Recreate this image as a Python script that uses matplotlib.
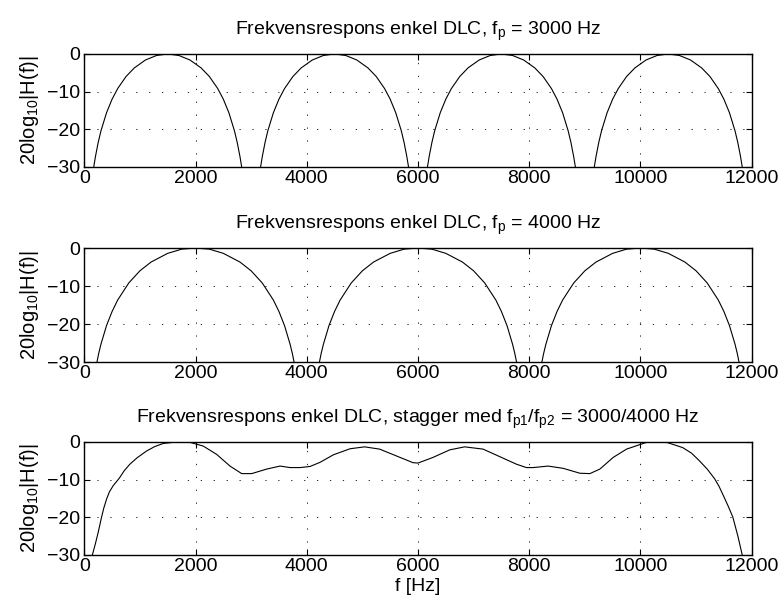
import matplotlib

matplotlib.use("Agg")

import matplotlib.pyplot as plt

plt.rcParams["font.family"] = ["Liberation Sans", "DejaVu Sans"]
plt.rcParams["mathtext.fontset"] = "custom"
plt.rcParams["mathtext.rm"] = "Liberation Sans"
plt.rcParams["mathtext.it"] = "Liberation Sans"

# enkel DLC, fp = 3000 Hz
f_3000 = [
    100, 170, 200, 250, 300, 400, 500, 600, 750, 900, 1100, 1300, 1500,
    1700, 1900, 2100, 2250, 2400, 2500, 2600, 2700, 2750, 2800, 2830, 2900,
    3100, 3170, 3200, 3250, 3300, 3400, 3500, 3600, 3750, 3900, 4100, 4300, 4500,
    4700, 4900, 5100, 5250, 5400, 5500, 5600, 5700, 5750, 5800, 5830, 5900,
    6100, 6170, 6200, 6250, 6300, 6400, 6500, 6600, 6750, 6900, 7100, 7300, 7500,
    7700, 7900, 8100, 8250, 8400, 8500, 8600, 8700, 8750, 8800, 8830, 8900,
    9100, 9170, 9200, 9250, 9300, 9400, 9500, 9600, 9750, 9900, 10100, 10300, 10500,
    10700, 10900, 11100, 11250, 11400, 11500, 11600, 11700, 11750, 11800, 11830, 11900,
]
h_3000 = [
    -39.2, -30.0, -27.3, -23.5, -20.4, -15.6, -12.0, -9.2, -6.0, -3.7, -1.6, -0.4, 0.0,
    -0.4, -1.6, -3.7, -6.0, -9.2, -12.0, -15.6, -20.4, -23.5, -27.3, -30.0, -39.2,
    -39.2, -30.0, -27.3, -23.5, -20.4, -15.6, -12.0, -9.2, -6.0, -3.7, -1.6, -0.4, 0.0,
    -0.4, -1.6, -3.7, -6.0, -9.2, -12.0, -15.6, -20.4, -23.5, -27.3, -30.0, -39.2,
    -39.2, -30.0, -27.3, -23.5, -20.4, -15.6, -12.0, -9.2, -6.0, -3.7, -1.6, -0.4, 0.0,
    -0.4, -1.6, -3.7, -6.0, -9.2, -12.0, -15.6, -20.4, -23.5, -27.3, -30.0, -39.2,
    -39.2, -30.0, -27.3, -23.5, -20.4, -15.6, -12.0, -9.2, -6.0, -3.7, -1.6, -0.4, 0.0,
    -0.4, -1.6, -3.7, -6.0, -9.2, -12.0, -15.6, -20.4, -23.5, -27.3, -30.0, -39.2,
]

# enkel DLC, fp = 4000 Hz
f_4000 = [
    130, 228, 260, 300, 400, 500, 600, 800, 1000, 1200, 1500, 1750, 2000,
    2250, 2500, 2800, 3000, 3200, 3400, 3500, 3600, 3700, 3740, 3772, 3870,
    4130, 4228, 4260, 4300, 4400, 4500, 4600, 4800, 5000, 5200, 5500, 5750, 6000,
    6250, 6500, 6800, 7000, 7200, 7400, 7500, 7600, 7700, 7740, 7772, 7870,
    8130, 8228, 8260, 8300, 8400, 8500, 8600, 8800, 9000, 9200, 9500, 9750, 10000,
    10250, 10500, 10800, 11000, 11200, 11400, 11500, 11600, 11700, 11740, 11772, 11870,
]
h_4000 = [
    -39.7, -30.0, -27.7, -25.3, -20.4, -16.7, -13.7, -9.2, -6.0, -3.7, -1.4, -0.3, 0.0,
    -0.3, -1.4, -3.7, -6.0, -9.2, -13.7, -16.7, -20.4, -25.3, -27.7, -30.0, -39.7,
    -39.7, -30.0, -27.7, -25.3, -20.4, -16.7, -13.7, -9.2, -6.0, -3.7, -1.4, -0.3, 0.0,
    -0.3, -1.4, -3.7, -6.0, -9.2, -13.7, -16.7, -20.4, -25.3, -27.7, -30.0, -39.7,
    -39.7, -30.0, -27.7, -25.3, -20.4, -16.7, -13.7, -9.2, -6.0, -3.7, -1.4, -0.3, 0.0,
    -0.3, -1.4, -3.7, -6.0, -9.2, -13.7, -16.7, -20.4, -25.3, -27.7, -30.0, -39.7,
]

# stagger 3000/4000 Hz
f_stagger = [
    80, 145, 200, 250, 310, 350, 400, 450, 520, 630, 720, 820, 950, 1120, 1270,
    1420, 1600, 1750, 1900,
    2140, 2380, 2620, 2830, 3010, 3280, 3520, 3700, 3880, 4060, 4240, 4480,
    4780, 5040, 5310, 5610, 5910, 6000, 6270, 6570, 6840, 7170, 7470, 7770,
    7950, 8070, 8340, 8610, 8910, 9090, 9270, 9510, 9750, 9950, 10110, 10290,
    10470, 10760, 10920, 11060, 11200, 11330, 11410, 11480, 11570, 11660, 11750,
    11830, 11900,
]
h_stagger = [
    -40.0, -30.0, -27.0, -24.0, -20.0, -17.6, -15.2, -13.3, -11.6, -9.6, -7.6,
    -5.9, -4.2, -2.4, -1.2, -0.4, -0.1, 0.0, -0.1,
    -1.1, -3.3, -6.4, -8.4, -8.4, -7.2, -6.4, -6.8, -6.8, -6.5, -5.4, -3.4,
    -1.8, -1.3, -1.9, -3.7, -5.5, -5.6, -4.1, -2.1, -1.3, -1.9, -3.9, -5.9,
    -6.8, -6.8, -6.4, -7.0, -8.3, -8.4, -7.2, -4.1, -1.9, -0.9, -0.1, 0.0,
    -0.1, -1.5, -3.0, -5.0, -7.2, -9.7, -11.7, -13.9, -16.8, -19.9, -24.9,
    -30.0, -40.0,
]

x_ticks = [0, 2000, 4000, 6000, 8000, 10000, 12000]
y_ticks = [-30, -20, -10, 0]

titles = [
    "Frekvensrespons enkel DLC, f$_{\\mathrm{p}}$ = 3000 Hz",
    "Frekvensrespons enkel DLC, f$_{\\mathrm{p}}$ = 4000 Hz",
    "Frekvensrespons enkel DLC, stagger med f$_{\\mathrm{p1}}$/f$_{\\mathrm{p2}}$ = 3000/4000 Hz",
]
series = [(f_3000, h_3000), (f_4000, h_4000), (f_stagger, h_stagger)]

# axes boxes in figure fractions (left, bottom, width, height)
boxes = [
    (0.1075, 0.7249, 0.8513, 0.1862),
    (0.1075, 0.4036, 0.8513, 0.1878),
    (0.1075, 0.0857, 0.8513, 0.1862),
]

fig = plt.figure(figsize=(7.84, 6.07), dpi=100)

for i, (box, title, (fx, hy)) in enumerate(zip(boxes, titles, series)):
    ax = fig.add_axes(box)
    ax.plot(fx, hy, color="black", linewidth=0.8)
    ax.set_xlim(0, 12000)
    ax.set_ylim(-30, 0)
    ax.set_xticks(x_ticks)
    ax.set_yticks(y_ticks)
    ax.set_xticklabels([str(t) for t in x_ticks])
    ax.set_yticklabels([str(t).replace("-", "\u2212") for t in y_ticks])
    ax.tick_params(direction="in", top=True, right=True, length=4, width=0.8,
                   labelsize=14)
    ax.tick_params(axis="x", pad=2)
    ax.tick_params(axis="y", pad=3)
    ax.grid(True, color="black", linestyle=(0, (1.5, 14)), linewidth=0.6)
    for sp in ax.spines.values():
        sp.set_linewidth(1.0)
    ax.set_title(title, fontsize=14, pad=14)
    ax.set_ylabel("20log$_{\\mathrm{10}}$|H(f)|", fontsize=14.5, labelpad=4)
    if i == 2:
        ax.set_xlabel("f [Hz]", fontsize=14, labelpad=2)

fig.savefig("out.png", dpi=100)
